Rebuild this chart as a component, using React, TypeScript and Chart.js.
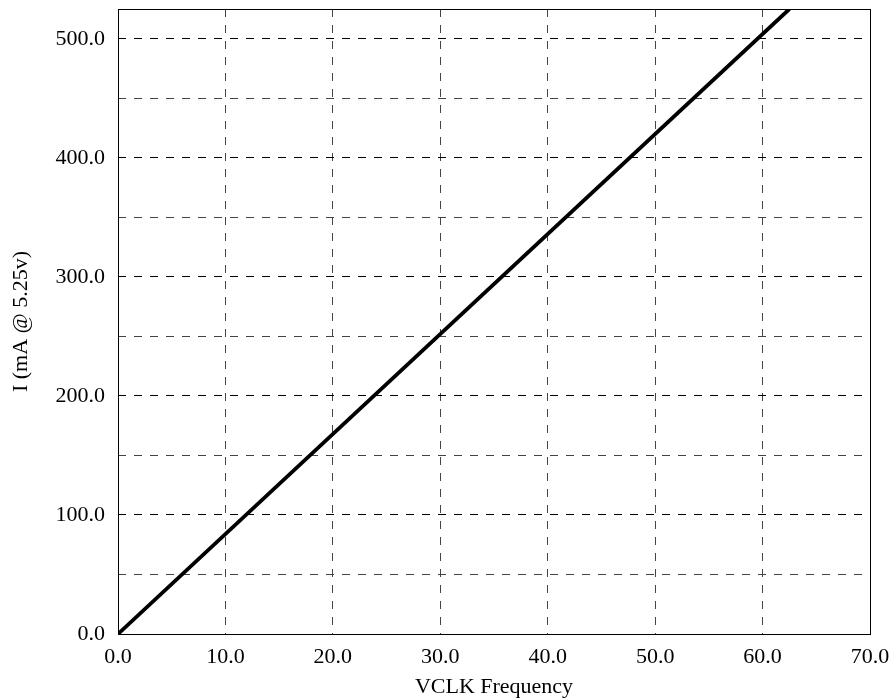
import React, { useEffect, useRef } from "react";
import { Chart, registerables } from "chart.js";

Chart.register(...registerables);

const freqMHz = [0, 62.5];
const currentMA = [0, 525];
const xTicks = [0, 10, 20, 30, 40, 50, 60, 70];
const yGridValues = [0, 50, 100, 150, 200, 250, 300, 350, 400, 450, 500];
const yMax = 525;

const FONT = "'Liberation Serif', 'Times New Roman', serif";

const framePlugin = {
  id: "frame",
  afterDraw(chart: any) {
    const { ctx, chartArea } = chart;
    ctx.save();
    ctx.strokeStyle = "#000";
    ctx.lineWidth = 1;
    ctx.setLineDash([]);
    const l = Math.round(chartArea.left) + 0.5;
    const t = Math.round(chartArea.top) + 0.5;
    const r = Math.round(chartArea.right) + 0.5;
    const b = Math.round(chartArea.bottom) + 0.5;
    ctx.strokeRect(l, t, r - l, b - t);
    ctx.restore();
  },
};

export default function App() {
  const ref = useRef<HTMLCanvasElement | null>(null);
  useEffect(() => {
    document.body.style.margin = "0";
    const chart = new Chart(ref.current as HTMLCanvasElement, {
      type: "scatter",
      data: {
        datasets: [
          {
            data: freqMHz.map((x, i) => ({ x, y: currentMA[i] })),
            showLine: true,
            borderColor: "#000",
            borderWidth: 3.8,
            pointRadius: 0,
            fill: false,
          },
        ],
      },
      options: {
        animation: false,
        responsive: false,
        layout: { padding: { left: 0, top: 9, right: 25, bottom: 0 } },
        plugins: { legend: { display: false }, tooltip: { enabled: false } },
        scales: {
          x: {
            type: "linear",
            min: xTicks[0],
            max: xTicks[xTicks.length - 1],
            afterBuildTicks: (s: any) => {
              s.ticks = xTicks.map((v) => ({ value: v }));
            },
            afterFit: (s: any) => {
              s.height = 66;
              s.paddingLeft = 0;
              s.paddingRight = 0;
            },
            ticks: {
              color: "#000",
              font: { family: FONT, size: 22 },
              padding: 10,
              maxRotation: 0,
              callback: (v: any) => Number(v).toFixed(1),
            },
            grid: {
              color: "#444",
              lineWidth: 1,
              drawTicks: false,
            },
            border: { display: false, dash: [8, 8] },
            title: {
              display: true,
              text: "VCLK Frequency",
              color: "#000",
              font: { family: FONT, size: 22 },
              padding: { top: 0, bottom: 0 },
            },
          },
          y: {
            type: "linear",
            min: 0,
            max: yMax,
            afterBuildTicks: (s: any) => {
              s.ticks = yGridValues.map((v) => ({ value: v }));
            },
            afterFit: (s: any) => {
              s.width = 118;
              s.paddingTop = 0;
              s.paddingBottom = 0;
            },
            ticks: {
              color: "#000",
              font: { family: FONT, size: 22 },
              padding: 13,
              callback: (v: any) => (Number(v) % 100 === 0 ? Number(v).toFixed(1) : ""),
            },
            grid: {
              color: (c: any) => (c.tick && c.tick.value % 100 === 0 ? "#000" : "#444"),
              lineWidth: 1,
              drawTicks: false,
            },
            border: { display: false, dash: [8, 8] },
            title: {
              display: true,
              text: "I (mA @ 5.25v)",
              color: "#000",
              font: { family: FONT, size: 22 },
              padding: { top: 8, bottom: 0 },
            },
          },
        },
      },
      plugins: [framePlugin],
    } as any);
    return () => chart.destroy();
  }, []);
  return (
    <div style={{ width: 895, height: 700 }}>
      <canvas ref={ref} width={895} height={700} style={{ display: "block" }} />
    </div>
  );
}
